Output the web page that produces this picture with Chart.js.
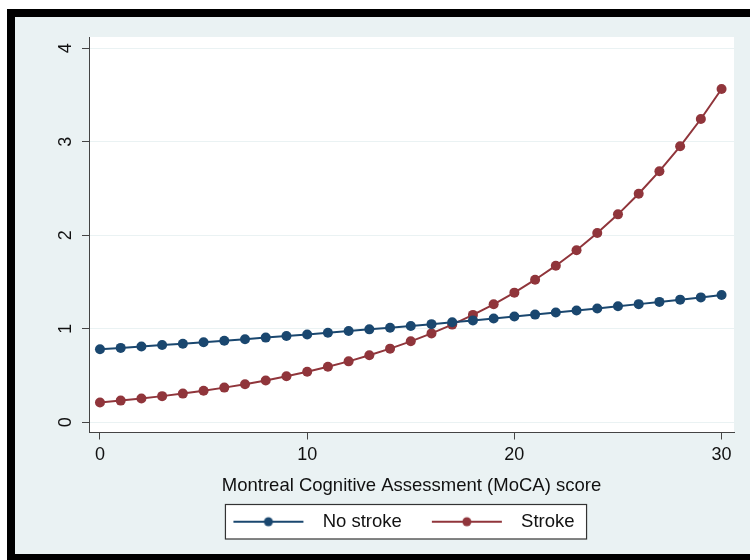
<!DOCTYPE html>
<html>
<head>
<meta charset="utf-8">
<script src="https://cdn.jsdelivr.net/npm/chart.js@4.4.1/dist/chart.umd.min.js"></script>
<style>
  html, body { margin: 0; padding: 0; background: #fff; }
  #wrap { width: 750px; height: 560px; position: relative; }
</style>
</head>
<body>
<div id="wrap"><canvas id="mocaChart"></canvas></div>
<script>
// MoCA score (x) and predicted values for each group
const mocaScores = [0, 1, 2, 3, 4, 5, 6, 7, 8, 9, 10, 11, 12, 13, 14, 15, 16, 17, 18, 19, 20, 21, 22, 23, 24, 25, 26, 27, 28, 29, 30];
const noStroke = [0.780, 0.795, 0.809, 0.825, 0.840, 0.856, 0.872, 0.888, 0.905, 0.922, 0.939, 0.957, 0.975, 0.993, 1.011, 1.030, 1.049, 1.069, 1.089, 1.109, 1.130, 1.151, 1.173, 1.195, 1.217, 1.240, 1.263, 1.287, 1.311, 1.335, 1.360];
const stroke = [0.210, 0.231, 0.254, 0.279, 0.306, 0.337, 0.370, 0.406, 0.447, 0.491, 0.539, 0.593, 0.651, 0.716, 0.787, 0.865, 0.950, 1.044, 1.148, 1.261, 1.386, 1.524, 1.674, 1.840, 2.023, 2.223, 2.443, 2.685, 2.951, 3.243, 3.564];
const xTicks = [0, 10, 20, 30];
const yTicks = [0, 1, 2, 3, 4];
const seriesLabels = ['No stroke', 'Stroke'];

const NAVY = '#1a476f';
const MAROON = '#90353b';
const BG = '#eaf2f3';
const FONT = '"Liberation Sans", Arial, sans-serif';

// line + marker icon for the legend
function makeIcon(color) {
  const c = document.createElement('canvas');
  c.width = 100;
  c.height = 18;
  const g = c.getContext('2d');
  g.strokeStyle = color;
  g.lineWidth = 2;
  g.beginPath();
  g.moveTo(20, 9);
  g.lineTo(90, 9);
  g.stroke();
  g.fillStyle = color;
  g.beginPath();
  g.arc(55, 9, 4.5, 0, Math.PI * 2);
  g.fill();
  return c;
}

const backgrounds = {
  id: 'backgrounds',
  beforeDraw(chart) {
    const ctx = chart.ctx;
    const a = chart.chartArea;
    ctx.save();
    ctx.fillStyle = '#fff';
    ctx.fillRect(0, 0, chart.width, chart.height);
    ctx.fillStyle = '#000';
    ctx.fillRect(7, 9, chart.width, chart.height);
    ctx.fillStyle = BG;
    ctx.fillRect(15, 17, chart.width, 537);
    ctx.fillStyle = '#fff';
    ctx.fillRect(a.left, a.top, a.right - a.left, a.bottom - a.top);

    // legend frame
    const hb = chart.legend.legendHitBoxes;
    if (hb && hb.length) {
      const first = hb[0], last = hb[hb.length - 1];
      const l = first.left + 12, r = last.left + last.width + 12;
      const t = first.top - 8, b = first.top + first.height + 8;
      ctx.fillStyle = '#fff';
      ctx.fillRect(l, t, r - l, b - t);
      ctx.strokeStyle = '#333';
      ctx.lineWidth = 1.2;
      ctx.strokeRect(l, t, r - l, b - t);
    }
    ctx.restore();
  }
};

const colors = [NAVY, MAROON];
const datasets = [noStroke, stroke].map((vals, i) => ({
  label: seriesLabels[i],
  data: mocaScores.map((x, j) => ({ x: x, y: vals[j] })),
  borderColor: colors[i],
  backgroundColor: colors[i],
  borderWidth: 2,
  pointRadius: 5,
  pointBorderWidth: 0,
  pointBackgroundColor: colors[i],
  tension: 0
}));

new Chart(document.getElementById('mocaChart'), {
  type: 'line',
  data: { datasets: datasets },
  options: {
    responsive: true,
    maintainAspectRatio: false,
    animation: false,
    layout: { padding: { top: 37, right: 16, bottom: 19, left: 54 } },
    scales: {
      x: {
        type: 'linear',
        min: -0.53,
        max: 30.6,
        afterBuildTicks: (s) => { s.ticks = xTicks.map(v => ({ value: v })); },
        afterFit: (s) => { s.height = 70; },
        grid: { drawOnChartArea: false, tickLength: 7, tickColor: '#444', tickWidth: 1 },
        border: { display: true, color: '#444', width: 1 },
        ticks: { color: '#111', font: { family: FONT, size: 18 }, padding: 5, maxRotation: 0, autoSkip: false },
        title: {
          display: true,
          text: 'Montreal Cognitive Assessment (MoCA) score',
          color: '#111',
          font: { family: FONT, size: 18.5 },
          padding: { top: 0, bottom: 5.7 }
        }
      },
      y: {
        min: -0.11,
        max: 4.12,
        afterBuildTicks: (s) => { s.ticks = yTicks.map(v => ({ value: v })); },
        afterFit: (s) => { s.width = 35; },
        grid: { color: BG, lineWidth: 1, tickLength: 7, tickColor: '#444', tickWidth: 1 },
        border: { display: true, color: '#444', width: 1 },
        ticks: { color: '#111', font: { family: FONT, size: 18 }, padding: 11, minRotation: 90, maxRotation: 90, crossAlign: 'center', autoSkip: false }
      }
    },
    plugins: {
      tooltip: { enabled: false },
      legend: {
        position: 'bottom',
        labels: {
          usePointStyle: true,
          pointStyleWidth: 100,
          padding: 10,
          color: '#111',
          font: { family: FONT, size: 18.5 },
          generateLabels: (chart) => chart.data.datasets.map((ds, i) => ({
            text: ds.label,
            pointStyle: makeIcon(ds.borderColor),
            fillStyle: ds.borderColor,
            strokeStyle: ds.borderColor,
            lineWidth: 0,
            fontColor: '#111',
            hidden: false,
            datasetIndex: i
          }))
        }
      }
    }
  },
  plugins: [backgrounds]
});
</script>
</body>
</html>
